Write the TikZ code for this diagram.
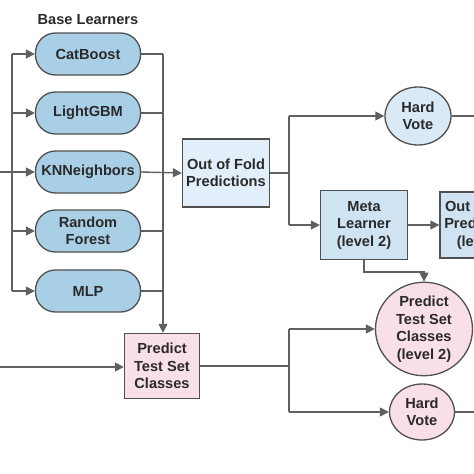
\documentclass[tikz,border=0pt]{standalone}
\usepackage{fontspec}
\setmainfont{Liberation Sans}
\usepackage{tikz}
\usetikzlibrary{shapes.geometric,arrows.meta}

\definecolor{ligne}{HTML}{606060}
\definecolor{bord}{HTML}{505050}
\definecolor{pilule}{HTML}{A9CFE6}
\definecolor{bleupale}{HTML}{E2EEF9}
\definecolor{bleumeta}{HTML}{CFE3F3}
\definecolor{bleuvote}{HTML}{DAE9F6}
\definecolor{rose}{HTML}{F9E0E6}
\definecolor{texte}{HTML}{2A2A2A}

\begin{document}
\begin{tikzpicture}[x=1pt, y=-1pt,
  font=\fontsize{14.6}{17.5}\selectfont\bfseries, text=texte,
  learner/.style={draw=bord, line width=1.3pt, fill=pilule, rounded corners=20pt,
    minimum width=105pt, minimum height=42pt, inner sep=0pt},
  boite/.style={draw=bord, line width=1.3pt, align=center, inner sep=0pt},
  vote/.style={draw=bord, line width=1.3pt, ellipse, align=center, inner sep=0pt},
  fil/.style={ligne, line width=1.4pt},
  fleche/.style={fil, -{Triangle[length=9pt, width=9pt]}}]
 \clip (0,0) rectangle (474,474);

	% Modeles de base
 \node at (88,20) {Base Learners};
 \node[learner] (cat) at (88,54) {CatBoost};
 \node[learner] (lgbm) at (88,113) {LightGBM};
 \node[learner] (knn) at (88,172) {KNNeighbors};
 \node[learner, align=center] (rf) at (88,231) {Random\\Forest};
 \node[learner] (mlp) at (88,291) {MLP};

	% Blocs
 \node[boite, fill=bleupale, minimum width=87pt, minimum height=68pt] (oof) at (226,173) {Out of Fold\\Predictions};
 \node[vote, fill=bleuvote, minimum width=66pt, minimum height=58pt] (hv1) at (418,116) {Hard\\Vote};
 \node[boite, fill=bleumeta, minimum width=87pt, minimum height=69pt] (meta) at (364,225) {Meta\\Learner\\(level 2)};
 \node[boite, fill=bleumeta, minimum width=88pt, minimum height=66pt] (oof2) at (484,225) {Out of Fold\\Predictions\\(level 2)};
 \node[boite, fill=rose, minimum width=75pt, minimum height=65pt] (ptc) at (162,366) {Predict\\Test Set\\Classes};
 \node[vote, fill=rose, minimum width=97pt, minimum height=88pt] (ptc2) at (424,329) {Predict\\Test Set\\Classes\\(level 2)};
 \node[vote, fill=rose, minimum width=65pt, minimum height=56pt] (hv2) at (422,412) {Hard\\Vote};

	% Points de jonction
 \coordinate (in1) at (0,172);
 \coordinate (in2) at (0,367);
 \coordinate (gauche) at (12,172);
 \coordinate (droite) at (163,54);
 \coordinate (j1) at (289,173);
 \coordinate (j2) at (289,366);
 \coordinate (out1) at (474,116);
 \coordinate (out2) at (474,412);

	% Entree vers les modeles
 \draw[fil] (in1)--(gauche);
 \draw[fil] (12,54)--(12,291);
 \foreach \m in {cat,lgbm,knn,rf,mlp}
   \draw[fleche] (12,0 |- \m.west) -- (\m.west);

	% Sorties des modeles
 \foreach \m in {cat,lgbm,rf,mlp}
   \draw[fil] (\m.east) -- (droite |- \m.east);
 \draw[fleche] (droite) -- (ptc.north -| droite);
 \draw[fleche] (knn.east) -- (oof.west);

	% Niveau 2
 \draw[fil] (oof.east |- j1) -- (j1);
 \draw[fil] (j1 |- hv1.west) -- (j1 |- meta.west);
 \draw[fleche] (j1 |- hv1.west) -- (hv1.west);
 \draw[fleche] (j1 |- meta.west) -- (meta.west);
 \draw[fil] (hv1.east) -- (out1);
 \draw[fleche] (meta.east) -- (oof2.west);
 \draw[fleche] (meta.south) -- (364,272) -| (ptc2.north);

	% Jeu de test
 \draw[fleche] (in2) -- (ptc.west |- in2);
 \draw[fil] (ptc.east |- j2) -- (j2);
 \draw[fil] (j2 |- ptc2.west) -- (j2 |- hv2.west);
 \draw[fleche] (j2 |- ptc2.west) -- (ptc2.west);
 \draw[fleche] (j2 |- hv2.west) -- (hv2.west);
 \draw[fil] (hv2.east) -- (out2);

\end{tikzpicture}
\end{document}
